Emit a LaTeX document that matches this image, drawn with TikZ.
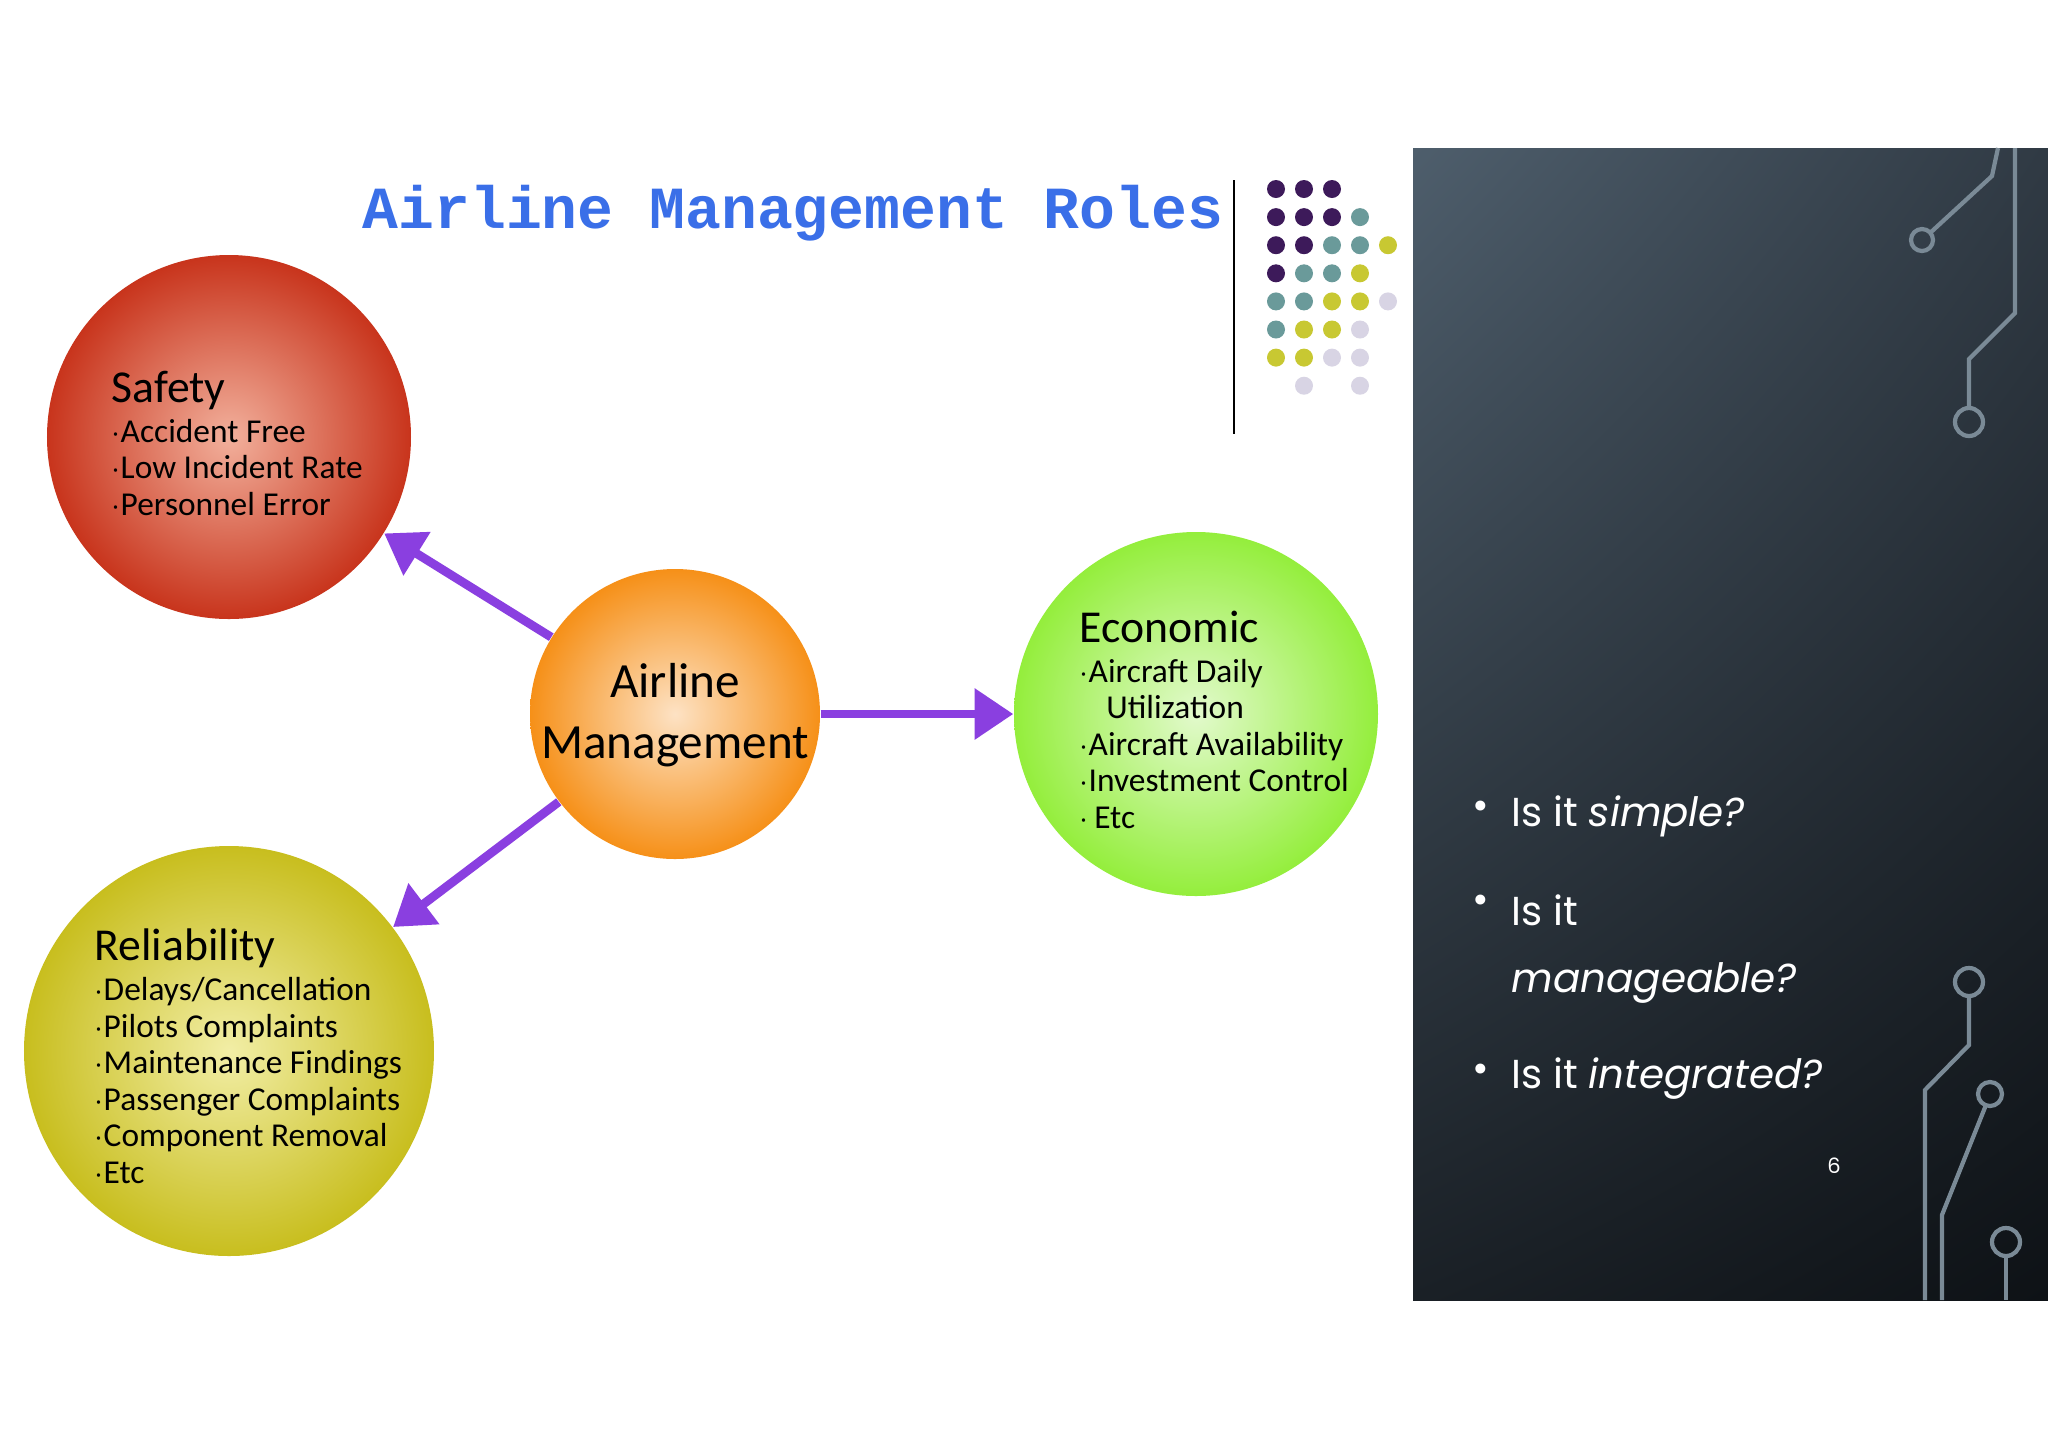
\documentclass[tikz,border=0pt]{standalone}
\usepackage{fontspec}
\setmainfont{Carlito}
\newfontfamily\monof{Liberation Mono}
\newfontfamily\bulf{Poppins}
\usetikzlibrary{arrows.meta,shadings}
\definecolor{dpur}{HTML}{3D1A5A}
\definecolor{dteal}{HTML}{6A9A9A}
\definecolor{dyel}{HTML}{C8C832}
\definecolor{dlav}{HTML}{D8D4E4}
\definecolor{arr}{HTML}{8A3FE0}
\definecolor{circ}{HTML}{7A8A96}
\definecolor{pul}{HTML}{4E5E6C}
\definecolor{pur}{HTML}{303A44}
\definecolor{pll}{HTML}{1A2026}
\definecolor{plr}{HTML}{0E1216}
\definecolor{ttl}{HTML}{3A6FE8}
\tikzset{
  role/.style={circle,inner sep=0pt},
  conn/.style={arr,line width=2.5pt,-{Triangle[length=11pt,width=14pt]}},
  txt/.style={anchor=north west,align=left,inner sep=0pt,font=\fontsize{9.5}{10.4}\selectfont},
  bul/.style={anchor=west,inner sep=0pt,text=white,font=\bulf\fontsize{11.5}{13}\selectfont},
  trace/.style={circ,line width=1.2pt}
}
\begin{document}
\begin{tikzpicture}
\useasboundingbox (0,0) rectangle (20.48,-14.48);
\fill[white] (0,0) rectangle (20.48,-14.48);
% panel
\shade[upper left=pul, upper right=pur, lower left=pll, lower right=plr] (14.13,-1.48) rectangle (20.48,-13.00);
% traces
\draw[trace] (19.98,-1.48) -- (19.92,-1.76) -- (19.30,-2.33);
\draw[trace] (19.22,-2.40) circle (0.11);
\draw[trace] (20.15,-1.48) -- (20.15,-3.13) -- (19.69,-3.59) -- (19.69,-4.08);
\draw[trace] (19.69,-4.22) circle (0.14);
\draw[trace] (19.69,-9.82) circle (0.14);
\draw[trace] (19.69,-9.96) -- (19.69,-10.45) -- (19.25,-10.90) -- (19.25,-13.00);
\draw[trace] (19.90,-10.94) circle (0.12);
\draw[trace] (19.86,-11.05) -- (19.42,-12.15) -- (19.42,-13.00);
\draw[trace] (20.06,-12.42) circle (0.14);
\draw[trace] (20.06,-12.56) -- (20.06,-13.00);
% title
\node[inner sep=0pt,text=ttl] (title) at (7.93,-2.13) {\monof\bfseries\fontsize{17}{20}\selectfont Airline Management Roles};
\draw[black,line width=0.8pt] (12.34,-1.80) -- (12.34,-4.34);
% dot grid
\foreach \r/\row in {1/{P,P,P},2/{P,P,P,T},3/{P,P,T,T,Y},4/{P,T,T,Y},5/{T,T,Y,Y,L},6/{T,Y,Y,L},7/{Y,Y,L,L},8/{N,L,N,L}}{
  \foreach \c [count=\i] in \row {
    \pgfmathsetmacro{\xx}{12.76+0.28*(\i-1)}
    \pgfmathsetmacro{\yy}{-1.89-0.281*(\r-1)}
    \if\c P \fill[dpur] (\xx,\yy) circle (0.09);\fi
    \if\c T \fill[dteal] (\xx,\yy) circle (0.09);\fi
    \if\c Y \fill[dyel] (\xx,\yy) circle (0.09);\fi
    \if\c L \fill[dlav] (\xx,\yy) circle (0.09);\fi
  }
}
% circles
\node[role,minimum size=3.64cm,shading=radial,inner color={rgb,255:red,242;green,176;blue,156},outer color={rgb,255:red,200;green,52;blue,28}] (safety) at (2.29,-4.37) {};
\node[role,minimum size=2.90cm,shading=radial,inner color={rgb,255:red,253;green,226;blue,196},outer color={rgb,255:red,246;green,144;blue,24}] (am) at (6.75,-7.14) {};
\node[role,minimum size=3.64cm,shading=radial,inner color={rgb,255:red,226;green,250;blue,204},outer color={rgb,255:red,148;green,238;blue,60}] (eco) at (11.96,-7.14) {};
\node[role,minimum size=4.10cm,shading=radial,inner color={rgb,255:red,242;green,238;blue,166},outer color={rgb,255:red,200;green,190;blue,30}] (rel) at (2.29,-10.51) {};
% connectors
\draw[conn] (am) -- (safety);
\draw[conn] (am) -- (eco);
\draw[conn] (am) -- (rel);
% texts
\node[align=center,inner sep=0pt,font=\fontsize{14}{17.5}\selectfont] (amt) at (6.75,-7.15) {Airline\\Management};
\node[txt] (st) at (1.11,-3.70) {{\fontsize{13}{15}\selectfont Safety}\\[1pt]$\cdot$Accident Free\\$\cdot$Low Incident Rate\\$\cdot$Personnel Error};
\node[txt] (et) at (10.79,-6.10) {{\fontsize{13}{15}\selectfont Economic}\\[1pt]$\cdot$Aircraft Daily\\\hspace*{0.8em}Utilization\\$\cdot$Aircraft Availability\\$\cdot$Investment Control\\$\cdot$\,Etc};
\node[txt] (rt) at (0.94,-9.28) {{\fontsize{13}{15}\selectfont Reliability}\\[1pt]$\cdot$Delays/Cancellation\\$\cdot$Pilots Complaints\\$\cdot$Maintenance Findings\\$\cdot$Passenger Complaints\\$\cdot$Component Removal\\$\cdot$Etc};
% bullets
\node[bul] (b1) at (14.72,-8.10) {\textbullet};
\node[bul] (t1) at (15.11,-8.16) {Is it \textit{simple?}};
\node[bul] (b2) at (14.72,-9.04) {\textbullet};
\node[bul] (t2) at (15.11,-9.10) {Is it};
\node[bul] (t2b) at (15.11,-9.83) {\textit{manageable?}};
\node[bul] (b3) at (14.72,-10.73) {\textbullet};
\node[bul] (t3) at (15.11,-10.79) {Is it \textit{integrated?}};
\node[text=white,inner sep=0pt,font=\bulf\fontsize{6}{7}\selectfont] (pg) at (18.34,-11.66) {6};
\end{tikzpicture}
\end{document}
